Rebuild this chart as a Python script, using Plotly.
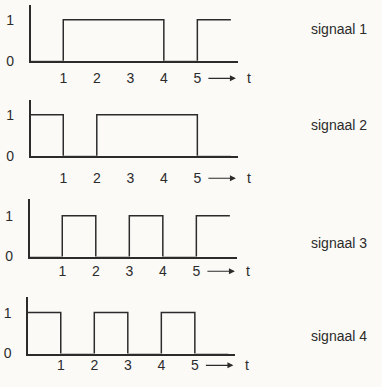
import plotly.graph_objects as go

# time points and signal levels (step signals, value holds until next point)
t = [0, 1, 2, 3, 4, 5, 6]
signaal_1 = [0, 1, 1, 1, 0, 1, 1]
signaal_2 = [1, 0, 1, 1, 1, 0, 0]
signaal_3 = [0, 1, 0, 1, 0, 1, 1]
signaal_4 = [1, 0, 1, 0, 1, 0, 0]
signalen = [signaal_1, signaal_2, signaal_3, signaal_4]
namen = ['signaal 1', 'signaal 2', 'signaal 3', 'signaal 4']
x_ticks = [1, 2, 3, 4, 5]
y_ticks = [0, 1]

W, H = 382, 387
ink = '#2b2b2b'
bg = '#fbfaf7'
lw = 1.5

# panel geometry in pixels: (x of t=0, top of y axis, baseline, label offset, name y)
panels = [
    (30.5, 5, 62, 18, 30),
    (30.5, 102, 159, 23, 128),
    (29.5, 203, 262, 15, 248),
    (28.0, 303, 361, 12, 343),
]
px_per_t = 33.4
px_per_y = 42.0
t_max = 6.2

fig = go.Figure()
for i, (x0, top, base, lab, ny) in enumerate(panels):
    n = i + 1
    xa = 'x' if n == 1 else f'x{n}'
    ya = 'y' if n == 1 else f'y{n}'
    fig.add_trace(go.Scatter(x=t, y=signalen[i], mode='lines', line_shape='hv',
                             line=dict(color=ink, width=lw), xaxis=xa, yaxis=ya,
                             cliponaxis=False, showlegend=False, hoverinfo='skip'))
    # axis lines sit half a line width outside the plot area, so start the
    # ranges that much past zero to put the signal's 0-level on the axis line
    xpad = (lw / 2) / px_per_t
    ypad = (lw / 2) / px_per_y
    xdom = [x0 / W, (x0 + t_max * px_per_t) / W]
    ydom = [1 - base / H, 1 - top / H]
    ytop = (base - top) / px_per_y
    fig.layout[f'xaxis{n}' if n > 1 else 'xaxis'] = dict(
        domain=xdom, anchor=ya, range=[xpad, t_max], tickvals=x_ticks,
        showline=True, linecolor=ink, linewidth=lw, showgrid=False, zeroline=False,
        ticks='', ticklabelstandoff=lab - 14, tickfont=dict(size=14, color=ink),
        fixedrange=True)
    fig.layout[f'yaxis{n}' if n > 1 else 'yaxis'] = dict(
        domain=ydom, anchor=xa, range=[ypad, ytop],
        tickvals=[max(v, ypad) for v in y_ticks], ticktext=[str(v) for v in y_ticks],
        showline=True, linecolor=ink, linewidth=lw, showgrid=False, zeroline=False,
        ticks='', ticklabelstandoff=12, tickfont=dict(size=14, color=ink),
        fixedrange=True)

    # arrow "---> t" next to the tick labels
    ly = 1 - (base + lab) / H
    fig.add_annotation(xref='paper', yref='paper', x=(x0 + 6.15 * px_per_t) / W, y=ly,
                       ax=-29, ay=0, text='', showarrow=True, arrowhead=2,
                       arrowsize=1, arrowwidth=1.2, arrowcolor=ink)
    fig.add_annotation(xref='paper', yref='paper', x=(x0 + 6.55 * px_per_t) / W, y=ly,
                       xanchor='center', yanchor='middle', text='t', showarrow=False,
                       font=dict(size=14, color=ink))
    fig.add_annotation(xref='paper', yref='paper', x=339 / W, y=1 - ny / H,
                       xanchor='center', yanchor='middle', text=namen[i],
                       showarrow=False, font=dict(size=14, color=ink))

fig.update_layout(width=W, height=H, margin=dict(l=0, r=0, t=0, b=0),
                  paper_bgcolor=bg, plot_bgcolor=bg,
                  font=dict(family='Liberation Sans, Arial, sans-serif'))
fig.write_html('out.html', config=dict(displayModeBar=False),
               post_script="document.body.style.margin='0';")
